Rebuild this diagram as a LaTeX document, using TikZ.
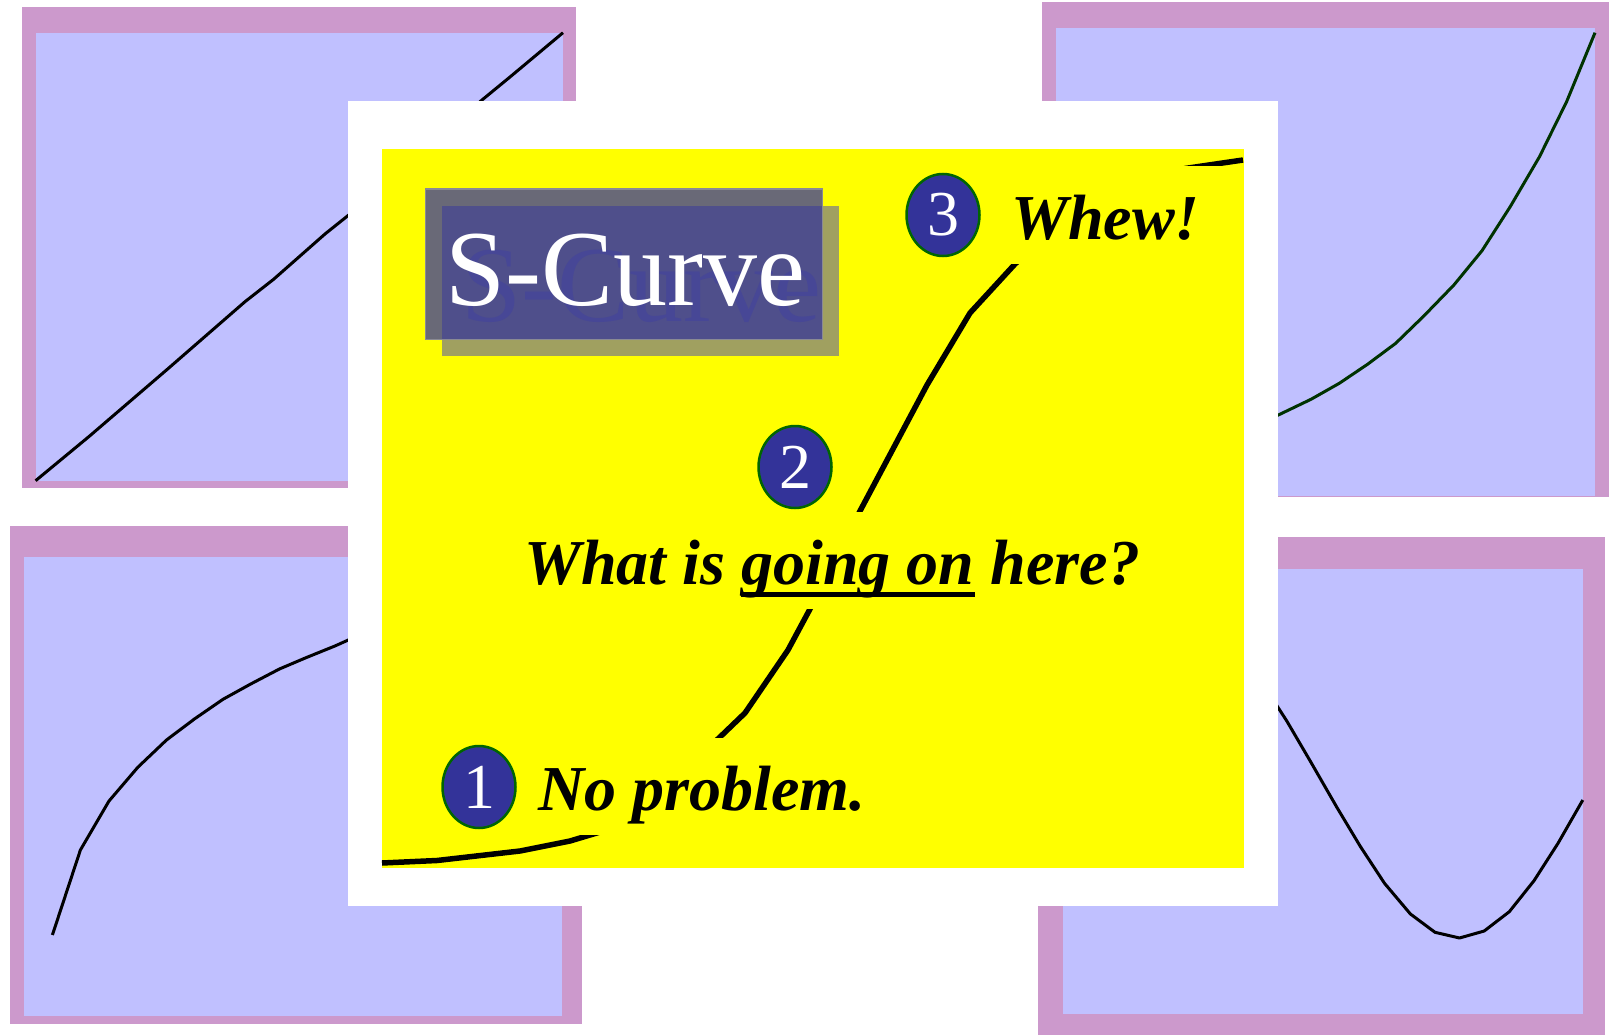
\documentclass[tikz,border=0pt]{standalone}
\usepackage{fontspec}
\setmainfont{Liberation Serif}
\usetikzlibrary{shapes.geometric}
\definecolor{pinkb}{HTML}{CC99CC}
\definecolor{lav}{HTML}{C0C0FF}
\definecolor{ylw}{HTML}{FFFF00}
\definecolor{olv}{HTML}{A0A060}
\definecolor{gry}{HTML}{696977}
\definecolor{gryedge}{HTML}{8A8A94}
\definecolor{ovl}{HTML}{4F4F8B}
\definecolor{ghostc}{HTML}{474796}
\definecolor{navy}{HTML}{333399}
\definecolor{dgreen}{HTML}{006600}
\definecolor{curvegreen}{HTML}{003300}
\begin{document}
\begin{tikzpicture}[x=1pt,y=-1pt,
  lbl/.style={font=\fontsize{64}{70}\selectfont\bfseries\itshape, inner sep=0, anchor=base west},
  num/.style={ellipse, fill=navy, draw=dgreen, line width=2.5pt, minimum width=73pt, minimum height=82pt, inner sep=0, text=white, font=\fontsize{64}{70}\selectfont},
  plotline/.style={line width=3pt, line join=round},
  ttl/.style={font=\fontsize{108}{110}\selectfont, inner sep=0, anchor=base west},
  ]
\useasboundingbox (0,0) rectangle (1609,1035);
\fill[white] (0,0) rectangle (1609,1035);
% top-left panel
\fill[pinkb] (21.8,6.7) rectangle (576,487.7);
\fill[lav] (35.6,32.7) rectangle (563,480.7);
\draw[plotline] (35.6,480.7) -- (88.8,436.7) -- (166.5,370) -- (245,301.7) -- (273.6,279.3) -- (325,234) -- (347.5,216) -- (482,100) -- (510,77) -- (563,32.7);
% top-right panel
\fill[pinkb] (1042,2.3) rectangle (1609,497);
\fill[lav] (1055.7,27.7) rectangle (1595,495.5);
\draw[plotline, curvegreen] (1270,419) -- (1311,399.3) -- (1339.3,383.3) -- (1367.5,364.3) -- (1395.7,343.3) -- (1423.8,316) -- (1453.9,285) -- (1482,250.7) -- (1510.2,206.7) -- (1539.5,156.7) -- (1566.6,101.7) -- (1595,32.7);
% bottom-left panel
\fill[pinkb] (9.6,526) rectangle (582,1023.7);
\fill[lav] (24.1,556.7) rectangle (562.2,1015.7);
\draw[plotline] (52.4,935) -- (80.4,850) -- (109,801) -- (137.8,767.3) -- (166.5,740) -- (194.4,719) -- (223,699.3) -- (250.7,684) -- (279.4,669) -- (306,657.7) -- (334.9,646) -- (355,637);
% bottom-right panel
\fill[pinkb] (1038,536.7) rectangle (1605,1035);
\fill[lav] (1062.5,569) rectangle (1582.8,1013.7);
\draw[plotline] (1270,695) -- (1286.6,720.7) -- (1310.6,761.7) -- (1336.5,806.7) -- (1360.5,846.7) -- (1384.5,883.3) -- (1410.4,914) -- (1435,932.3) -- (1459.5,938) -- (1484.2,931) -- (1509.3,911.7) -- (1534,880.7) -- (1558,843.3) -- (1582.8,800);
% central slide
\fill[white] (347.5,100.7) rectangle (1277.7,906);
\fill[ylw] (381.7,149) rectangle (1243.5,867.7);
% S-curve
\draw[line width=5.5pt, line join=round] (382,863) -- (437,860.5) -- (520,851) -- (570,841) -- (600,832) -- (660,793) -- (720,737) -- (745,713) -- (788,650) -- (810,609) -- (835,560) -- (860,511) -- (927,385) -- (970,313) -- (1015,264) -- (1060,224) -- (1120,190) -- (1185,168.5) -- (1243,160);
% label backgrounds
\fill[ylw] (530,737.5) rectangle (880,834.5);
\fill[ylw] (520,511.7) rectangle (1140,609.3);
\fill[ylw] (985,166.3) rectangle (1243.5,264);
% title box
\fill[olv] (441.7,206) rectangle (838.7,355.7);
\fill[gry] (425.7,189) rectangle (822.7,339.3);
\fill[ovl] (441.7,206) rectangle (822.7,339.3);
\draw[gryedge, line width=1.5pt] (425.7,189) rectangle (822.7,339.3);
\node[ttl, text=ghostc] (ghost) at (461,321) {S-Curve};
\node[ttl, text=white] (title) at (445,305) {S-Curve};
% labels
\node[lbl] (whew) at (1011,239.3) {Whew!};
\node[lbl] (nop) at (538,810.7) {No problem.};
\node[lbl] (q1) at (524,584) {What is\kern0.25em};
\node[lbl] (q2) at (q1.base east) {going on};
\node[lbl] (q3) at (q2.base east) {\kern0.25em here?};
\draw[line width=5pt] ([yshift=-10pt]q2.base west) -- ([yshift=-10pt]q2.base east);
% numbered circles
\node[num] (c1) at (479,787) {1};
\node[num] (c2) at (795,467) {2};
\node[num] (c3) at (943,215) {3};
\end{tikzpicture}
\end{document}
